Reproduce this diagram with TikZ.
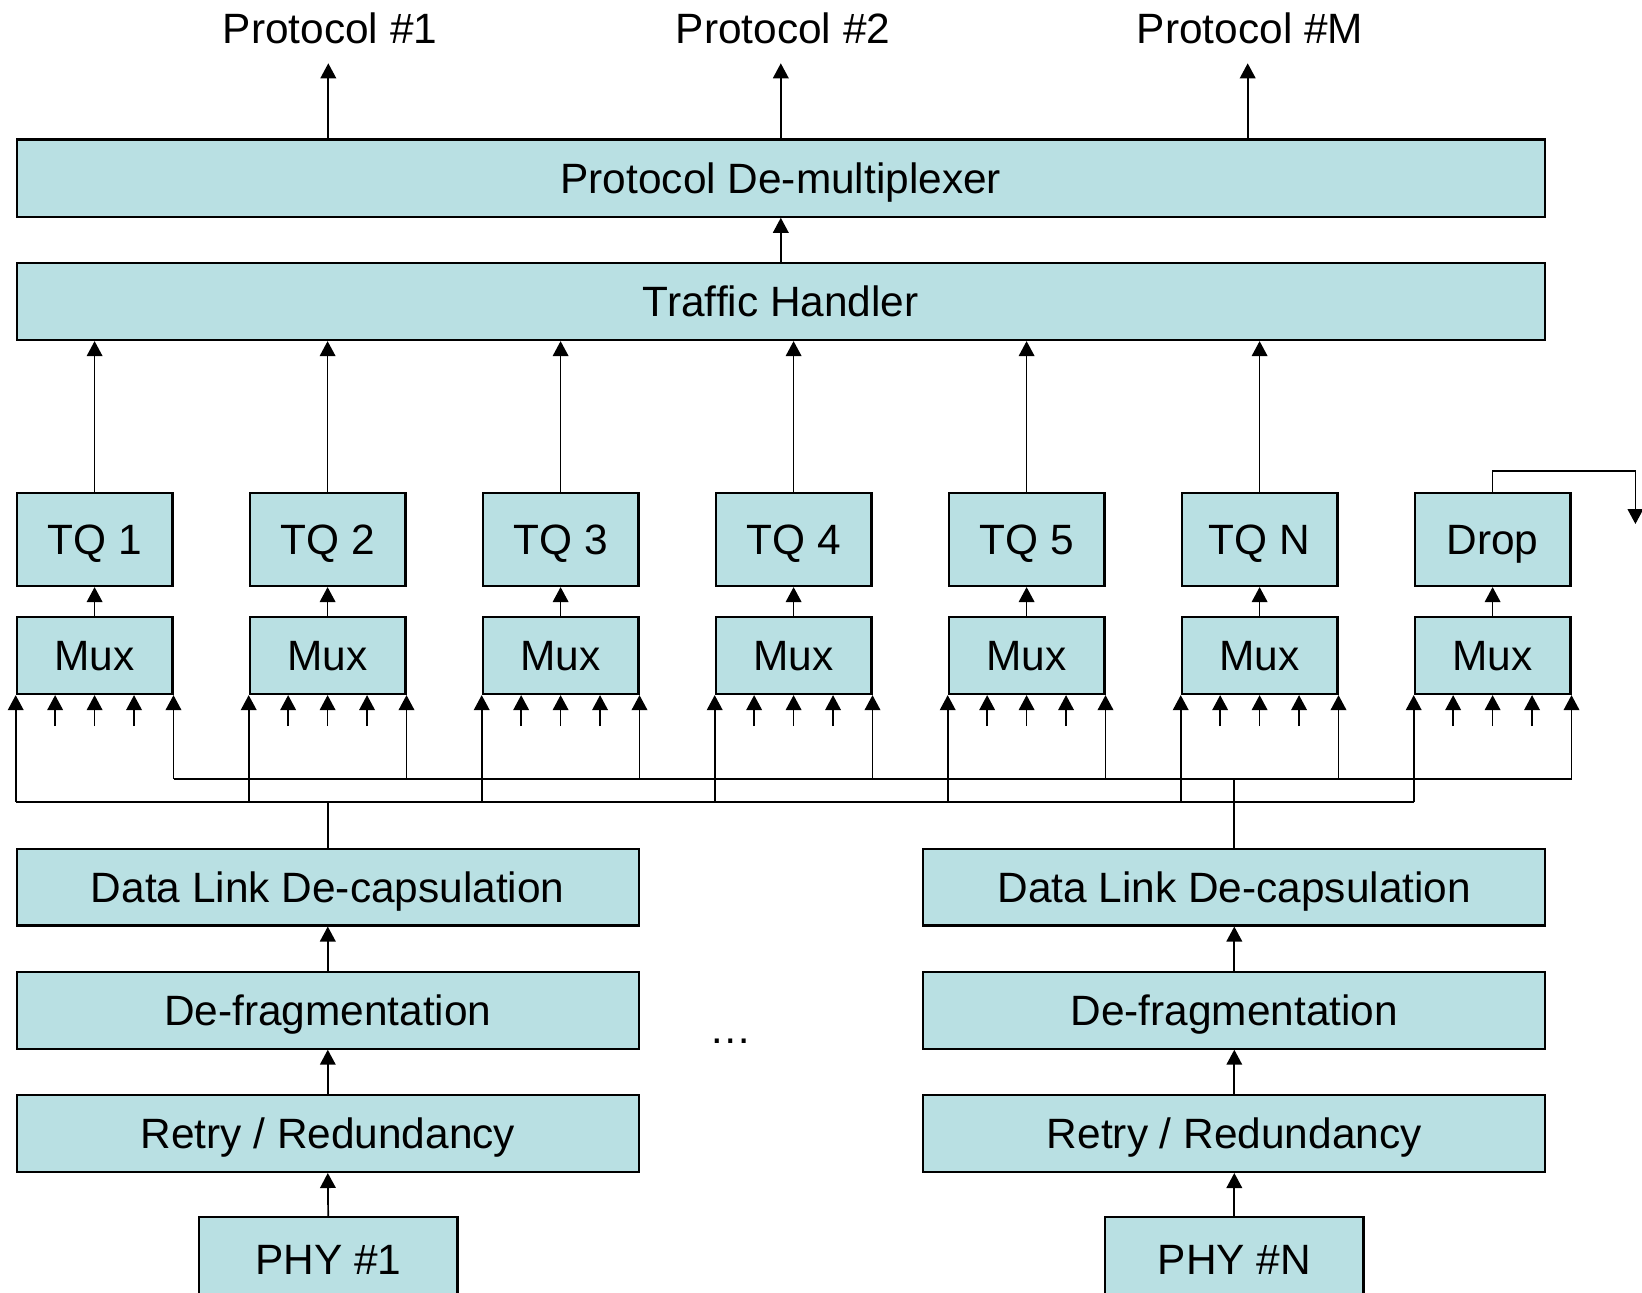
\documentclass[tikz,border=0pt]{standalone}
\usepackage{fontspec}
\setmainfont{Liberation Sans}
\usetikzlibrary{arrows.meta,calc}
\definecolor{boxfill}{RGB}{185,224,227}
\begin{document}
\begin{tikzpicture}[x=0.5pt,y=-0.5pt,
  txt/.style={font=\fontsize{21.2}{25}\selectfont},
  box/.style={txt,draw=black,line width=1.1pt,fill=boxfill,inner sep=0pt,
              text height=15.2pt,text depth=0pt},
  lbl/.style={txt,inner sep=0pt,text height=15.2pt,text depth=0pt},
  wide/.style={box,minimum width=764pt,minimum height=38.6pt},
  col/.style={box,minimum width=77.8pt},
  half/.style={box,minimum width=311pt,minimum height=38.4pt},
  phy/.style={box,minimum width=129.2pt,minimum height=41.7pt},
  wire/.style={line width=0.85pt},
  arr/.style={wire,-{Triangle[length=7.5pt,width=7.8pt]}}]
\useasboundingbox (0,0) rectangle (1642,1292);

% upper protocol layers
\node[wide] (demux) at (780.8,178.1) {Protocol De-multiplexer};
\node[wide] (th)    at (780.8,301.4) {Traffic Handler};

\node[lbl] (p1) at (330,28)  {Protocol \#1};
\node[lbl] (p2) at (783,28)  {Protocol \#2};
\node[lbl] (pm) at (1250,28) {Protocol \#M};
\coordinate (t1) at (328.3,63.3);
\coordinate (t2) at (780.8,63.3);
\coordinate (tm) at (1247.7,63.3);
\draw[arr] (demux.north -| t1) -- (t1);
\draw[arr] (demux.north -| t2) -- (t2);
\draw[arr] (demux.north -| tm) -- (tm);
\draw[arr] (th.north) -- (demux.south);

% traffic queues, drop and their multiplexers
\foreach \i/\t in {1/TQ 1,2/TQ 2,3/TQ 3,4/TQ 4,5/TQ 5,6/TQ N,7/Drop} {
  \node[col,minimum height=46.35pt] (q\i) at ({94.6+233*(\i-1)},539.6) {\t};
  \node[col,minimum height=38.5pt]  (m\i) at ({94.6+233*(\i-1)},655.5) {Mux};
  \draw[arr] (m\i.north) -- (q\i.south);
}
\foreach \i in {1,...,6} {
  \draw[arr] (q\i.north) -- (q\i.north |- th.south);
}

% discarded traffic
\coordinate (dropturn) at (1635.4,470.7);
\coordinate (dropend)  at (1635.4,524);
\draw[arr] (q7.north) |- (dropturn) -- (dropend);

% link-layer stacks
\node[half] (dld1) at (327.8,887)    {Data Link De-capsulation};
\node[half] (dfr1) at (327.8,1010.2) {De-fragmentation};
\node[half] (ret1) at (327.8,1133.5) {Retry / Redundancy};
\node[phy]  (phy1) at (328.2,1259)   {PHY \#1};
\node[half] (dld2) at (1234.3,887)    {Data Link De-capsulation};
\node[half] (dfr2) at (1234.3,1010.2) {De-fragmentation};
\node[half] (ret2) at (1234.3,1133.5) {Retry / Redundancy};
\node[phy]  (phy2) at (1234.3,1259)   {PHY \#N};
\node[txt,inner sep=0pt,anchor=base] (dots) at (731,1043.7) {…};

\foreach \s in {1,2} {
  \draw[arr] (phy\s.north) -- (ret\s.south);
  \draw[arr] (ret\s.north) -- (dfr\s.south);
  \draw[arr] (dfr\s.north) -- (dld\s.south);
}

% distribution buses into the multiplexers
\coordinate (upbus)  at (0,779);
\coordinate (lowbus) at (0,801.7);
\draw[wire] (m1.south west |- lowbus) -- (m7.south west |- lowbus);
\draw[wire] (m1.south east |- upbus) -- (m7.south east |- upbus);
\draw[wire] (dld1.north) -- (dld1.north |- lowbus);
\draw[wire] (dld2.north) -- (dld2.north |- upbus);
\foreach \i in {1,...,7} {
  \draw[arr] (m\i.south west |- lowbus) -- (m\i.south west);
  \draw[arr] (m\i.south east |- upbus) -- (m\i.south east);
  \foreach \f in {0.25,0.5,0.75} {
    \draw[arr] ($(m\i.south west)!\f!(m\i.south east)+(0,31)$) --
               ($(m\i.south west)!\f!(m\i.south east)$);
  }
}
\end{tikzpicture}
\end{document}
